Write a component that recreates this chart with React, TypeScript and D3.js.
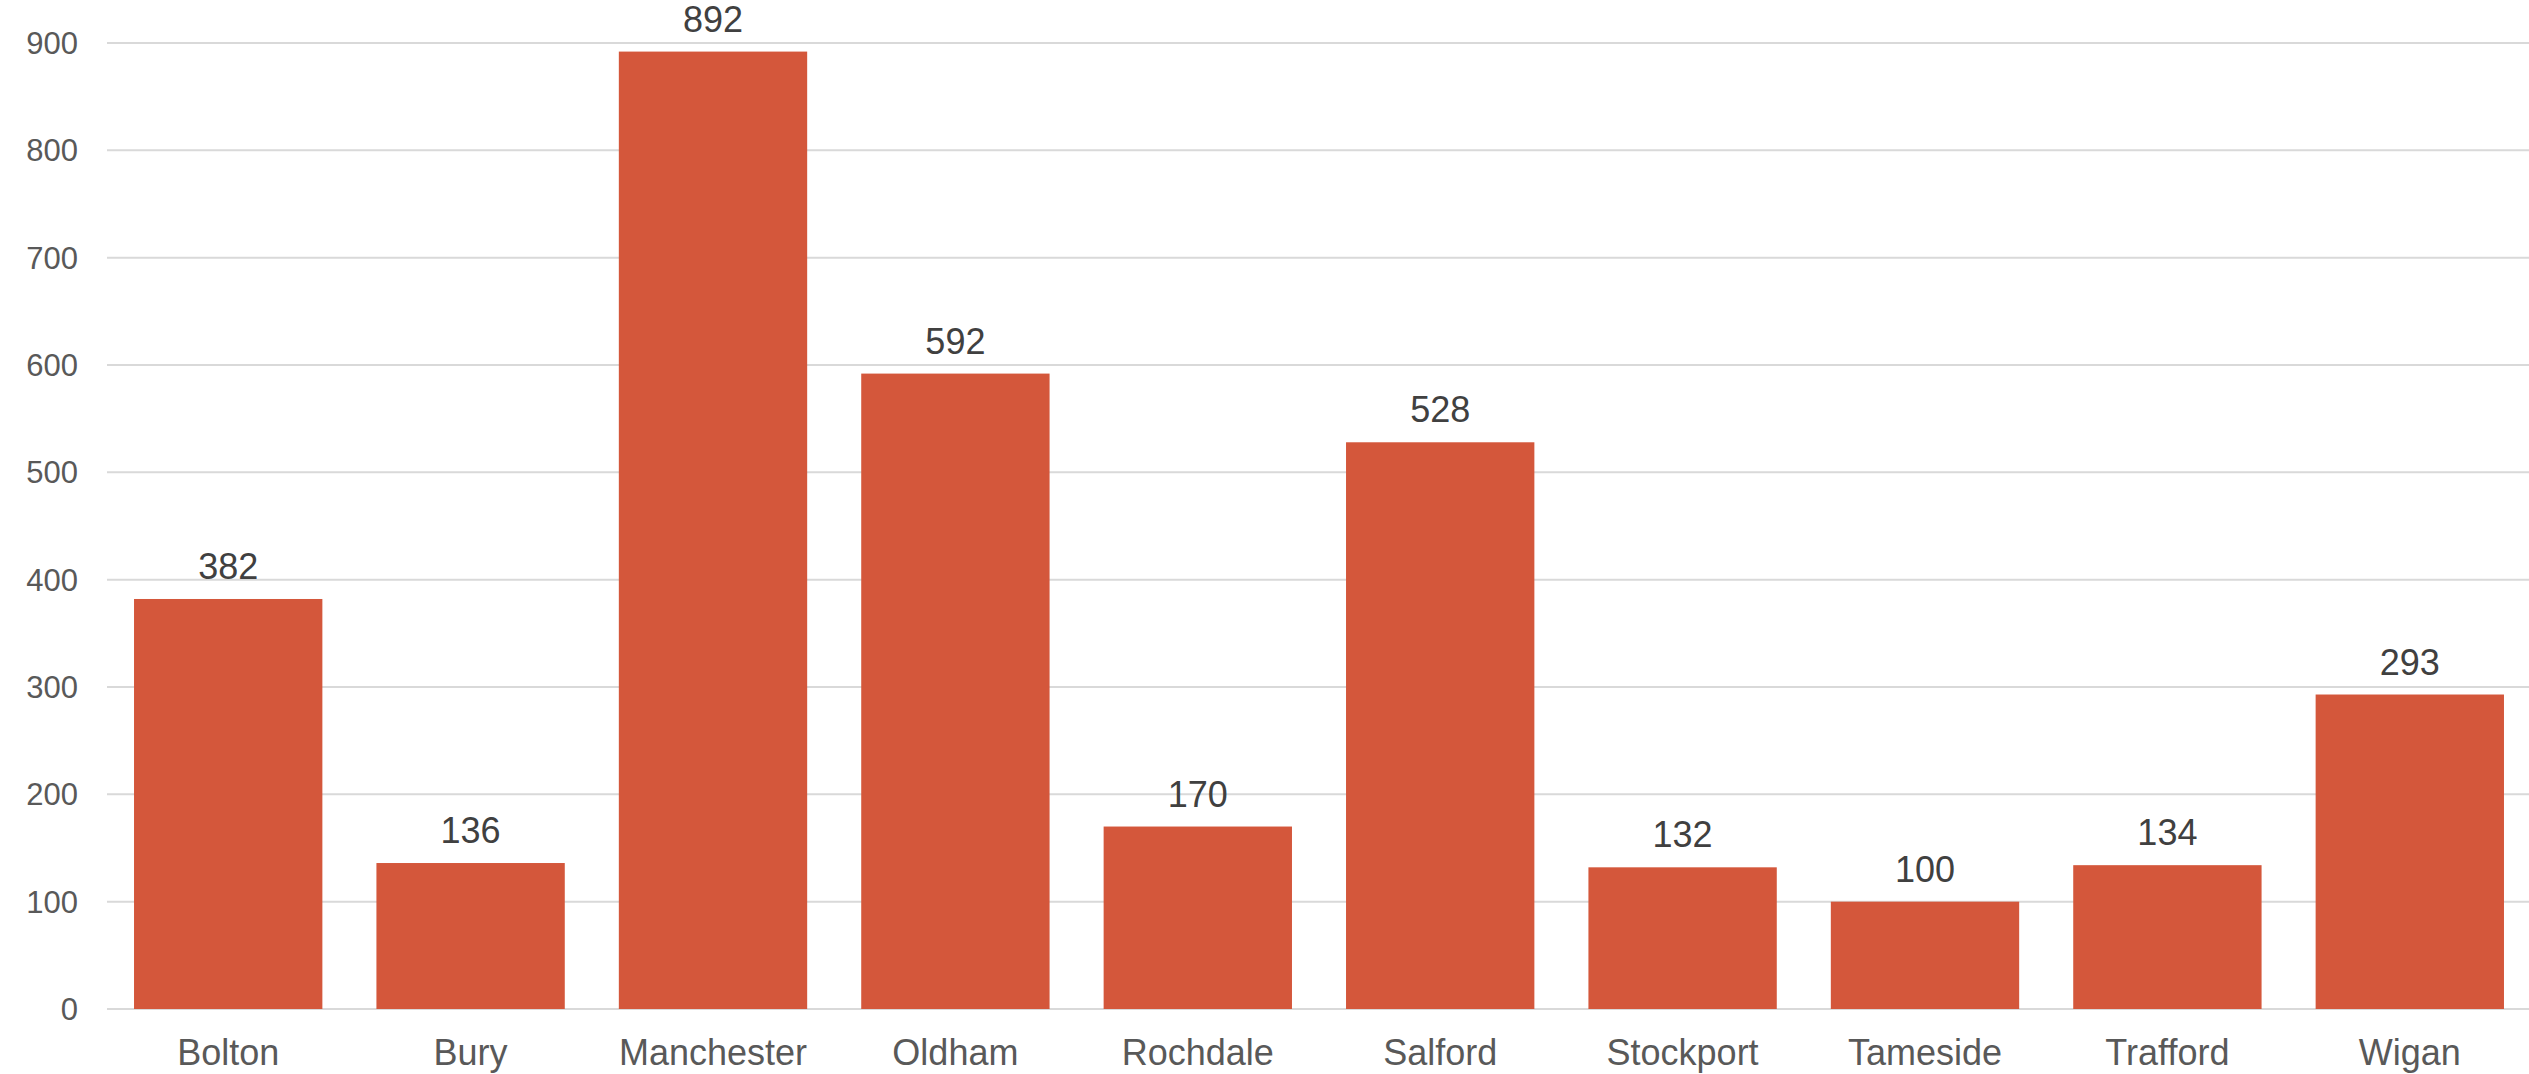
import React from "react";
import * as d3 from "d3";

const categories = ["Bolton", "Bury", "Manchester", "Oldham", "Rochdale", "Salford", "Stockport", "Tameside", "Trafford", "Wigan"];
const values = [382, 136, 892, 592, 170, 528, 132, 100, 134, 293];
const yTicks = [0, 100, 200, 300, 400, 500, 600, 700, 800, 900];

const W = 2529;
const H = 1074;
const FONT = "'Liberation Sans', Arial, sans-serif";

export default function App() {
  const x = d3.scaleBand<string>().domain(categories).range([107, 2531]).paddingInner(0.223).paddingOuter(0.1115);
  const y = d3.scaleLinear().domain([0, 900]).range([1009, 43]);

  return (
    <svg width={W} height={H} style={{ position: "absolute", left: 0, top: 0, background: "#fff" }}>
      {yTicks.map((t) => (
        <g key={t}>
          <line x1={107} x2={W} y1={y(t)} y2={y(t)} stroke="#d9d9d9" strokeWidth={2} />
          <text x={78} y={y(t) + 11} textAnchor="end" fontFamily={FONT} fontSize={31} fill="#595959">
            {t}
          </text>
        </g>
      ))}
      {categories.map((c, i) => (
        <g key={c}>
          <rect x={x(c)} y={y(values[i])} width={x.bandwidth()} height={y(0) - y(values[i])} fill="#d4573b" />
          <text x={(x(c) as number) + x.bandwidth() / 2} y={y(values[i]) - 20} textAnchor="middle" fontFamily={FONT} fontSize={36} fill="#404040">
            {values[i]}
          </text>
          <text x={(x(c) as number) + x.bandwidth() / 2} y={1065} textAnchor="middle" fontFamily={FONT} fontSize={36} fill="#595959">
            {c}
          </text>
        </g>
      ))}
    </svg>
  );
}
